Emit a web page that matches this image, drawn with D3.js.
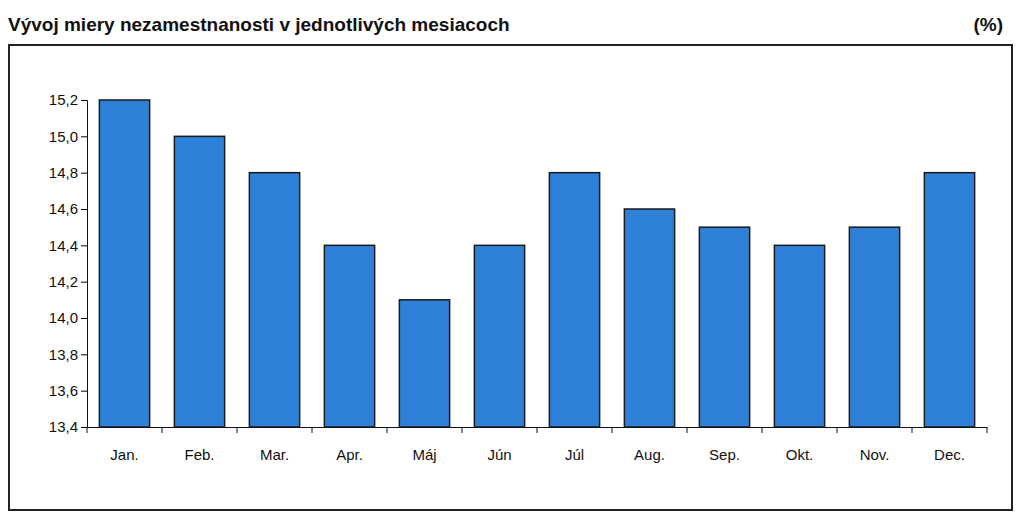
<!DOCTYPE html>
<html><head><meta charset="utf-8">
<script src="https://cdn.jsdelivr.net/npm/d3@7"></script>
<style>body{margin:0;background:#fff}svg{font-family:Arial,"Liberation Sans",sans-serif}</style>
</head><body><svg id="c" width="1024" height="530"></svg>
<script>
const months=["Jan.","Feb.","Mar.","Apr.","Máj","Jún","Júl","Aug.","Sep.","Okt.","Nov.","Dec."];
const values=[15.2,15.0,14.8,14.4,14.1,14.4,14.8,14.6,14.5,14.4,14.5,14.8];
const yTicks=[13.4,13.6,13.8,14.0,14.2,14.4,14.6,14.8,15.0,15.2];
const svg=d3.select("#c");
svg.append("text").attr("x",8).attr("y",31).attr("font-size",19).attr("font-weight","bold").attr("fill","#111").text("Vývoj miery nezamestnanosti v jednotlivých mesiacoch");
svg.append("text").attr("x",1003).attr("y",31).attr("text-anchor","end").attr("font-size",19).attr("font-weight","bold").attr("fill","#111").text("(%)");
svg.append("rect").attr("x",9).attr("y",45).attr("width",1003).attr("height",465).attr("fill","none").attr("stroke","#222").attr("stroke-width",2);
const x=d3.scaleBand().domain(months).range([87,987]).paddingInner(0.33).paddingOuter(0.165);
const y=d3.scaleLinear().domain([13.4,15.2]).range([427,100]);
svg.selectAll("rect.b").data(values).join("rect").attr("class","b")
 .attr("x",(d,i)=>x(months[i])).attr("width",x.bandwidth())
 .attr("y",d=>y(d)).attr("height",d=>y(13.4)-y(d))
 .attr("fill","#2f80d8").attr("stroke","#1a1a1a").attr("stroke-width",1.5);
const fmt=d=>d.toFixed(1).replace(".",",");
const ya=svg.append("g").attr("transform","translate(87,0)").call(d3.axisLeft(y).tickValues(yTicks).tickFormat(fmt).tickSize(6));
ya.selectAll("text").attr("font-size",15).attr("fill","#111");
const xa=svg.append("g").attr("transform","translate(0,427)").call(d3.axisBottom(x).tickSize(0).tickPadding(22));
xa.selectAll("text").attr("font-size",15).attr("fill","#111");
const step=x.step();
const bt=d3.range(13).map(i=>87+i*75);
svg.append("g").selectAll("line").data(bt).join("line").attr("x1",d=>d).attr("x2",d=>d).attr("y1",427).attr("y2",433).attr("stroke","#111");
svg.selectAll(".domain").attr("stroke","#111");
</script></body></html>
